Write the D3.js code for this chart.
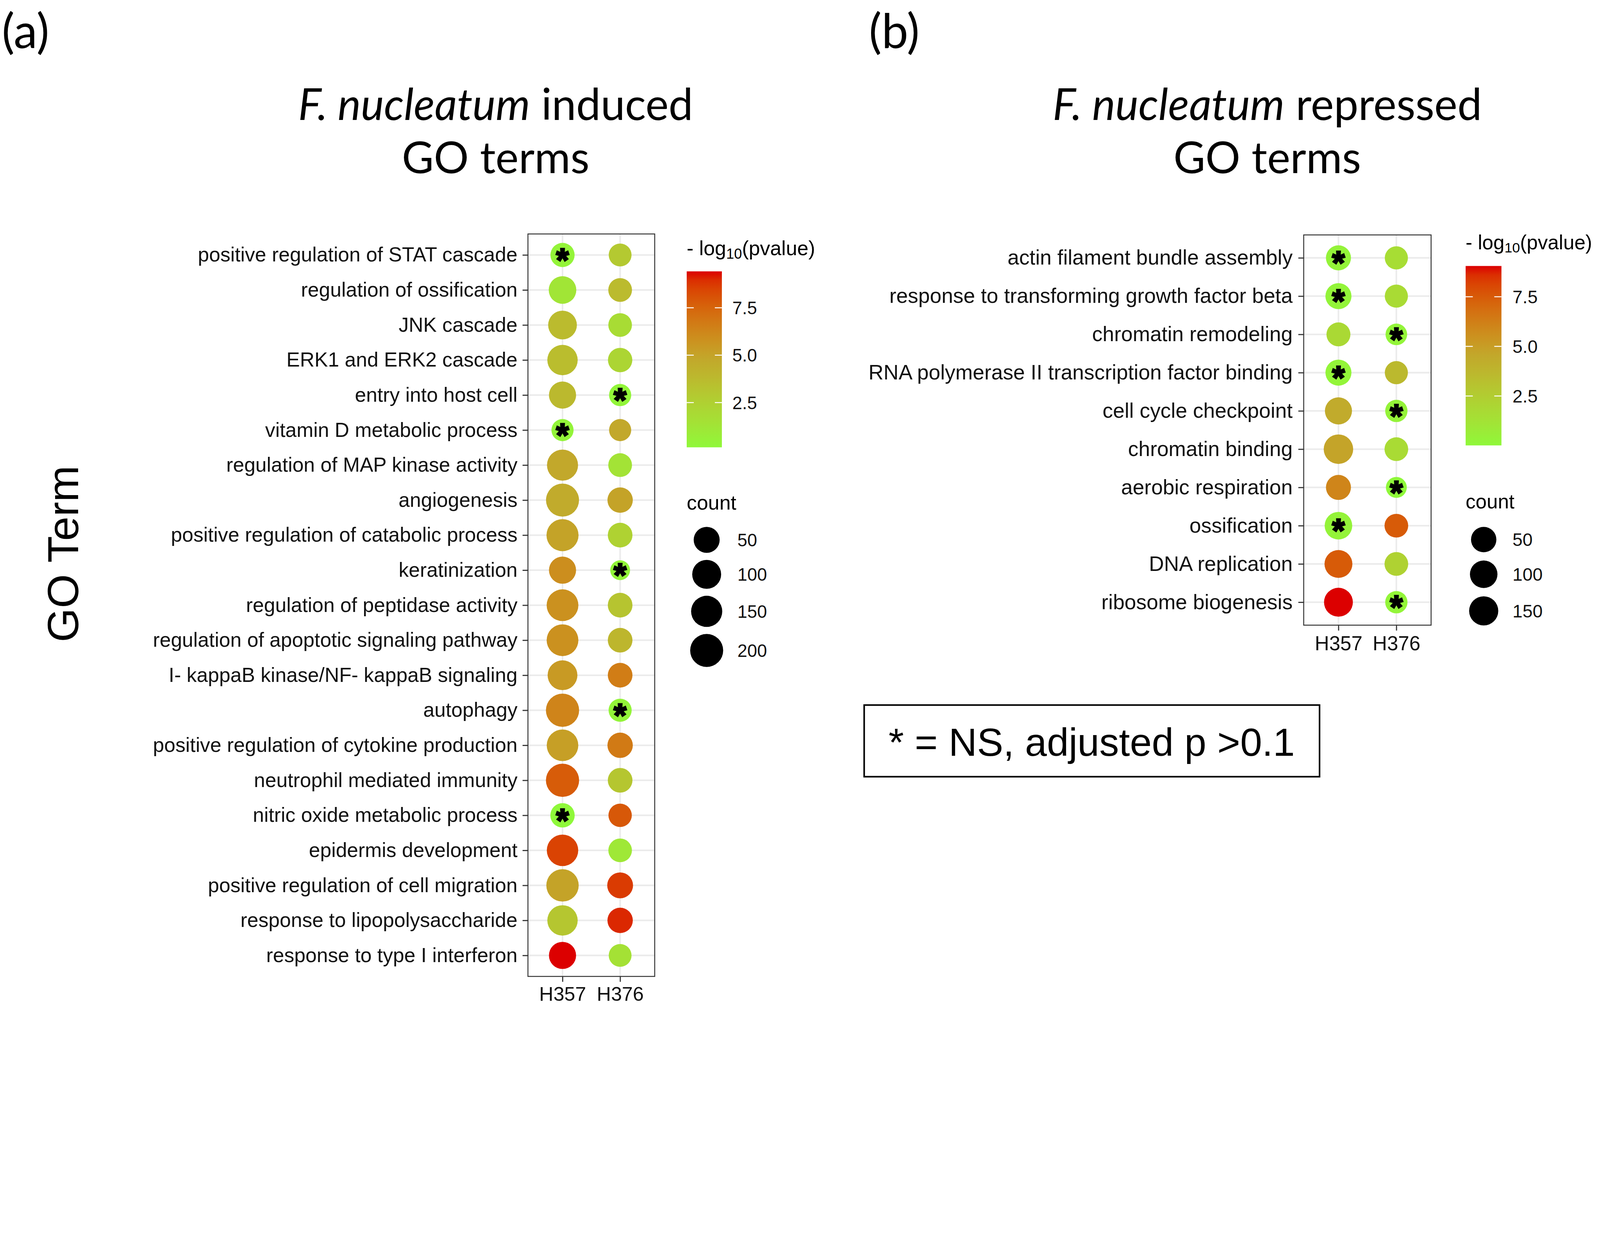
<!DOCTYPE html>
<html lang="en"><head>
<meta charset="utf-8"/>
<meta content="width=device-width, initial-scale=1.0" name="viewport"/>
<title>GO term dot plots</title>
<script src="https://d3js.org/d3.v7.min.js"></script>
<style>
    html, body { margin: 0; padding: 0; background: #fff; overflow: hidden; }
    #fig { display: block; width: 100vw; height: 100vh; }
    svg text { font-family: "Liberation Sans", Arial, sans-serif; }
    svg text.calib { font-family: Lato, "Open Sans", sans-serif; }
</style>
</head>
<body>
<svg id="fig" viewBox="0 0 5049 3168" preserveAspectRatio="xMidYMin meet"></svg>
<script>
// ---- data ----
const cellLines = ["H357", "H376"];

// (a) induced GO terms, top to bottom
const termsA = [
    "positive regulation of STAT cascade", "regulation of ossification", "JNK cascade",
    "ERK1 and ERK2 cascade", "entry into host cell", "vitamin D metabolic process",
    "regulation of MAP kinase activity", "angiogenesis", "positive regulation of catabolic process",
    "keratinization", "regulation of peptidase activity", "regulation of apoptotic signaling pathway",
    "I- kappaB kinase/NF- kappaB signaling", "autophagy", "positive regulation of cytokine production",
    "neutrophil mediated immunity", "nitric oxide metabolic process", "epidermis development",
    "positive regulation of cell migration", "response to lipopolysaccharide", "response to type I interferon"
];
const countA357 = [29, 75, 96, 131, 67, 14, 148, 200, 173, 67, 165, 165, 118, 206, 161, 206, 31, 157, 182, 131, 67];
const countA376 = [18, 25, 24, 31, 14, 14, 25, 42, 34, 8, 34, 34, 34, 20, 42, 34, 22, 24, 48, 42, 18];
const logpA357 = [0.4, 1.25, 3.7, 3.6, 3.8, 0.35, 4.8, 4.6, 5.0, 5.9, 5.8, 5.8, 5.4, 6.3, 5.2, 7.8, 0.14, 8.5, 5.0, 3.1, 9.42];
const logpA376 = [2.9, 3.7, 1.8, 2.2, 0.3, 4.8, 1.4, 5.0, 2.4, 0.3, 3.2, 4.0, 6.6, 0.35, 6.7, 3.1, 7.9, 1.1, 8.7, 9.05, 1.5];
const nsA357 = [1, 0, 0, 0, 0, 1, 0, 0, 0, 0, 0, 0, 0, 0, 0, 0, 1, 0, 0, 0, 0];
const nsA376 = [0, 0, 0, 0, 1, 0, 0, 0, 0, 1, 0, 0, 0, 1, 0, 0, 0, 0, 0, 0, 0];

// (b) repressed GO terms
const termsB = [
    "actin filament bundle assembly", "response to transforming growth factor beta", "chromatin remodeling",
    "RNA polymerase II transcription factor binding", "cell cycle checkpoint", "chromatin binding",
    "aerobic respiration", "ossification", "DNA replication", "ribosome biogenesis"
];
const countB357 = [44, 63, 28, 63, 88, 161, 44, 101, 110, 140];
const countB376 = [19, 19, 10, 19, 13, 25, 9, 25, 25, 13];
const logpB357 = [0.3, 0.25, 1.8, 0.2, 4.35, 4.7, 6.0, 0.3, 7.5, 9.05];
const logpB376 = [1.55, 1.7, 0.2, 3.6, 0.3, 1.7, 0.01, 7.5, 2.2, 0.2];
const nsB357 = [1, 1, 0, 1, 0, 0, 0, 1, 0, 0];
const nsB376 = [0, 0, 1, 0, 1, 0, 1, 0, 0, 1];

const colorBreaks = [2.5, 5.0, 7.5];
const countBreaksA = [50, 100, 150, 200];
const countBreaksB = [50, 100, 150];

// low / middle / high of the colour gradient
const gradColors = ["#8ff83a", "#c2a82b", "#dc0000"];

const svg = d3.select("#fig");
svg.append("rect").attr("width", 5049).attr("height", 3168).attr("fill", "#fff");
const defs = svg.append("defs");

function dotPanel(p) {
    const g = svg.append("g");
    const y = d3.scalePoint().domain(p.terms).range([p.top, p.bottom]).padding(0.6);
    const x = d3.scalePoint().domain(cellLines).range([p.left, p.right]).padding(0.6);

    const pExt = d3.extent(p.logp357.concat(p.logp376));
    const cExt = d3.extent(p.count357.concat(p.count376));
    const color = d3.scaleLinear().domain([pExt[0], (pExt[0] + pExt[1]) / 2, pExt[1]])
        .range(gradColors).interpolate(d3.interpolateLab);
    // ggplot area palette: radius grows with sqrt of the rescaled count
    const rad = d3.scaleSqrt().domain([0, cExt[1] - cExt[0]]).range([p.dMin / 2, p.dMax / 2]);
    const r = v => rad(Math.max(0, v - cExt[0]));

    const pts = p.terms.flatMap((t, i) => [
        { term: t, line: "H357", count: p.count357[i], logp: p.logp357[i], ns: p.ns357[i] },
        { term: t, line: "H376", count: p.count376[i], logp: p.logp376[i], ns: p.ns376[i] }
    ]);

    // grid
    g.selectAll(".hgrid").data(p.terms).enter().append("line")
        .attr("x1", p.left).attr("x2", p.right)
        .attr("y1", d => y(d)).attr("y2", d => y(d))
        .attr("stroke", "#ebebeb").attr("stroke-width", 5);
    g.selectAll(".vgrid").data(cellLines).enter().append("line")
        .attr("x1", d => x(d)).attr("x2", d => x(d))
        .attr("y1", p.top).attr("y2", p.bottom)
        .attr("stroke", "#ebebeb").attr("stroke-width", 5);

    // dots
    g.selectAll(".dot").data(pts).enter().append("circle")
        .attr("cx", d => x(d.line)).attr("cy", d => y(d.term))
        .attr("r", d => r(d.count))
        .attr("fill", d => color(d.logp));

    // NS asterisks
    g.selectAll(".star").data(pts.filter(d => d.ns)).enter().append("text")
        .attr("x", d => x(d.line)).attr("y", d => y(d.term) + 0.5 * p.starSize)
        .attr("text-anchor", "middle")
        .attr("font-size", p.starSize).attr("font-weight", "bold")
        .attr("stroke", "#000").attr("stroke-width", 4.5)
        .text("*");

    // panel border
    g.append("rect")
        .attr("x", p.left).attr("y", p.top)
        .attr("width", p.right - p.left).attr("height", p.bottom - p.top)
        .attr("fill", "none").attr("stroke", "#333").attr("stroke-width", 3);

    // axes
    const ay = g.append("g").attr("transform", `translate(${p.left},0)`)
        .call(d3.axisLeft(y).tickSize(17).tickPadding(p.yPad));
    const ax = g.append("g").attr("transform", `translate(0,${p.bottom})`)
        .call(d3.axisBottom(x).tickSize(17).tickPadding(p.xPad));
    [ay, ax].forEach(a => {
        a.attr("font-family", "Liberation Sans, Arial, sans-serif");
        a.select(".domain").remove();
        a.selectAll(".tick line").attr("stroke", "#333").attr("stroke-width", 3.5);
        a.selectAll(".tick text").attr("fill", "#111");
    });
    ay.attr("font-size", p.ySize);
    ax.attr("font-size", p.xSize);

    // colour legend
    const lg = p.legend;
    g.append("text").attr("x", lg.x).attr("y", lg.titleY).attr("font-size", lg.titleSize)
        .call(t => {
            t.append("tspan").text("- log");
            t.append("tspan").attr("font-size", lg.titleSize * 0.7).attr("dy", lg.titleSize * 0.17).text("10");
            t.append("tspan").attr("dy", -lg.titleSize * 0.17).text("(pvalue)");
        });
    const gid = "grad" + p.id;
    const grad = defs.append("linearGradient").attr("id", gid)
        .attr("x1", 0).attr("y1", 1).attr("x2", 0).attr("y2", 0);
    d3.range(0, 1.0001, 0.05).forEach(t => grad.append("stop")
        .attr("offset", t).attr("stop-color", color(pExt[0] + t * (pExt[1] - pExt[0]))));
    const cb = d3.scaleLinear().domain(pExt).range([lg.barBottom, lg.barTop]);
    g.append("rect").attr("x", lg.x).attr("y", lg.barTop)
        .attr("width", lg.barW).attr("height", lg.barBottom - lg.barTop)
        .attr("fill", `url(#${gid})`);
    colorBreaks.forEach(v => {
        [[lg.x, lg.x + lg.barW / 5], [lg.x + lg.barW * 4 / 5, lg.x + lg.barW]].forEach(s => {
            g.append("line").attr("x1", s[0]).attr("x2", s[1])
                .attr("y1", cb(v)).attr("y2", cb(v))
                .attr("stroke", "#fff").attr("stroke-width", 3);
        });
        g.append("text").attr("x", lg.labelX).attr("y", cb(v)).attr("dy", "0.36em")
            .attr("font-size", lg.labelSize).attr("fill", "#111")
            .text(d3.format(".1f")(v));
    });

    // size legend
    g.append("text").attr("x", lg.x).attr("y", lg.countY).attr("font-size", lg.titleSize).text("count");
    let cy = lg.firstKey;
    lg.breaks.forEach((v, i) => {
        if (i > 0) cy += r(lg.breaks[i - 1]) + r(v) + lg.keyGap;
        g.append("circle").attr("cx", lg.keyX).attr("cy", cy).attr("r", r(v)).attr("fill", "#000");
        g.append("text").attr("x", lg.labelX2).attr("y", cy).attr("dy", "0.36em")
            .attr("font-size", lg.labelSize).attr("fill", "#111").text(v);
    });
}

dotPanel({
    id: "A", terms: termsA,
    count357: countA357, count376: countA376,
    logp357: logpA357, logp376: logpA376,
    ns357: nsA357, ns376: nsA376,
    left: 1666, right: 2066, top: 738, bottom: 3080,
    dMin: 62.5, dMax: 104.8, starSize: 104,
    ySize: 63.7, xSize: 62, yPad: 16, xPad: 16,
    legend: {
        x: 2167, titleY: 805, titleSize: 64, barW: 111, barTop: 856, barBottom: 1411,
        labelX: 2311, labelSize: 56, countY: 1608, keyX: 2230, firstKey: 1703,
        keyGap: 22, labelX2: 2327, breaks: countBreaksA
    }
});

dotPanel({
    id: "B", terms: termsB,
    count357: countB357, count376: countB376,
    logp357: logpB357, logp376: logpB376,
    ns357: nsB357, ns376: nsB376,
    left: 4114, right: 4516, top: 741, bottom: 1972,
    dMin: 66, dMax: 93, starSize: 104,
    ySize: 65.8, xSize: 63, yPad: 18, xPad: 18,
    legend: {
        x: 4625, titleY: 786, titleSize: 63, barW: 113, barTop: 839, barBottom: 1405,
        labelX: 4773, labelSize: 57, countY: 1604, keyX: 4682, firstKey: 1702,
        keyGap: 26, labelX2: 4773, breaks: countBreaksB
    }
});

// y axis title of panel (a)
svg.append("text").attr("transform", "translate(247,1747) rotate(-90)")
    .attr("text-anchor", "middle").attr("font-size", 138).text("GO Term");

// panel letters and titles
svg.append("text").attr("class", "calib").attr("x", 6).attr("y", 152).attr("font-size", 150).text("(a)");
svg.append("text").attr("class", "calib").attr("x", 2742).attr("y", 152).attr("font-size", 150).text("(b)");

function title(cx, word) {
    const t = svg.append("text").attr("class", "calib").attr("x", cx).attr("y", 378)
        .attr("text-anchor", "middle").attr("font-size", 138);
    t.append("tspan").attr("font-style", "italic").text("F. nucleatum");
    t.append("tspan").text(" " + word);
    svg.append("text").attr("class", "calib").attr("x", cx).attr("y", 546)
        .attr("text-anchor", "middle").attr("font-size", 138).text("GO terms");
}
title(1564, "induced");
title(3999, "repressed");

// NS note
svg.append("rect").attr("x", 2727).attr("y", 2224).attr("width", 1437).attr("height", 226)
    .attr("fill", "none").attr("stroke", "#000").attr("stroke-width", 5);
svg.append("text").attr("x", 3445).attr("y", 2384).attr("text-anchor", "middle")
    .attr("font-size", 124).text("* = NS, adjusted p >0.1");
</script>
</body></html>
